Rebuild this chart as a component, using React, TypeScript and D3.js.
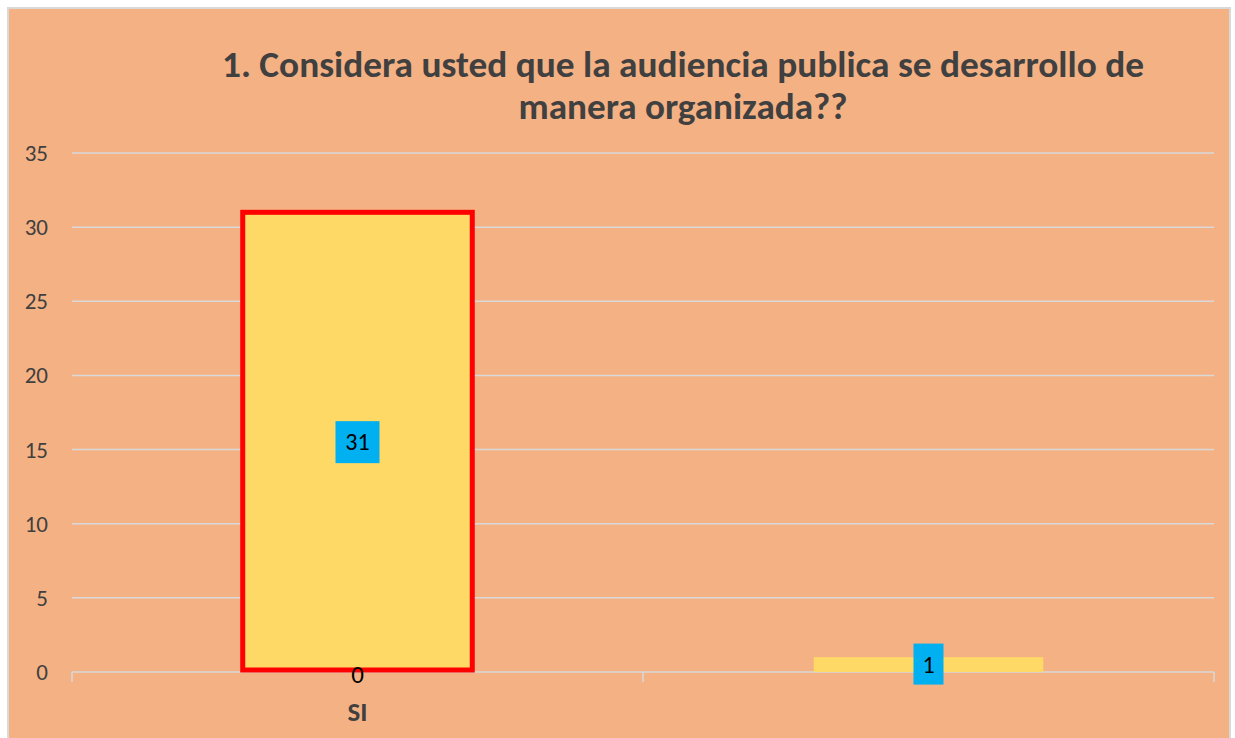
import React from "react";
import * as d3 from "d3";

const categories = ["SI", ""];
const seriesMain = [31, null];
const seriesSecond = [0, 1];
const yTicks = [0, 5, 10, 15, 20, 25, 30, 35];
const titleLines = [
  "1. Considera usted que la audiencia publica se desarrollo de",
  "manera organizada??",
];

const W = 1235;
const H = 738;
const font = "Calibri, Carlito, 'Open Sans', 'Liberation Sans', sans-serif";

export default function App() {
  const x = d3.scaleBand<string>().domain(categories.map((c, i) => String(i))).range([72, 1214]).padding(0);
  const y = d3.scaleLinear().domain([0, 35]).range([672, 153]);
  const bw = x.bandwidth() * 0.402;
  const cx = (i: number) => (x(String(i)) as number) + x.bandwidth() / 2;

  return (
    <svg width={W} height={H} style={{ position: "absolute", left: 0, top: 0, display: "block" }}>
      <rect x={0} y={0} width={W} height={H} fill="#ffffff" />
      <rect x={8} y={8} width={1222} height={740} fill="#F4B183" stroke="#D9D9D9" strokeWidth={2} />
      {titleLines.map((t, i) => (
        <text
          key={i}
          x={683}
          y={77 + i * 42}
          textAnchor="middle"
          fontFamily={font}
          fontWeight="bold"
          fontSize={36}
          fill="#404040"
          textLength={i === 0 ? 922 : 329}
          lengthAdjust="spacingAndGlyphs"
        >
          {t}
        </text>
      ))}
      {yTicks.map((t) => (
        <g key={t}>
          <line x1={72} x2={1214} y1={y(t)} y2={y(t)} stroke="#D9D9D9" strokeWidth={1.5} />
          <text x={48} y={y(t) + 8} textAnchor="end" fontFamily={font} fontSize={23} fill="#404040">
            {t}
          </text>
        </g>
      ))}
      {[0, 1, 2].map((i) => {
        const xx = 72 + i * x.step();
        return <line key={i} x1={xx} x2={xx} y1={672} y2={682} stroke="#D9D9D9" strokeWidth={1.5} />;
      })}
      {seriesSecond.map((v, i) =>
        v > 0 ? (
          <rect key={"s" + i} x={cx(i) - bw / 2} y={y(v)} width={bw} height={y(0) - y(v)} fill="#FFD966" />
        ) : null
      )}
      {seriesMain.map((v, i) =>
        v != null ? (
          <rect
            key={"m" + i}
            x={cx(i) - bw / 2}
            y={y(v)}
            width={bw}
            height={y(0) - y(v) - 2}
            fill="#FFD966"
            stroke="#FF0000"
            strokeWidth={5}
          />
        ) : null
      )}
      {seriesMain.map((v, i) =>
        v != null ? (
          <g key={"lm" + i}>
            <rect x={cx(i) - 22} y={(y(v) + y(0)) / 2 - 21} width={44} height={42} fill="#00B0F0" />
            <text x={cx(i)} y={(y(v) + y(0)) / 2 + 8} textAnchor="middle" fontFamily={font} fontSize={24} fill="#000">
              {v}
            </text>
          </g>
        ) : null
      )}
      {seriesSecond.map((v, i) =>
        v > 0 ? (
          <g key={"ls" + i}>
            <rect x={cx(i) - 15} y={(y(v) + y(0)) / 2 - 21} width={30} height={41} fill="#00B0F0" />
            <text x={cx(i)} y={(y(v) + y(0)) / 2 + 8} textAnchor="middle" fontFamily={font} fontSize={24} fill="#000">
              {v}
            </text>
          </g>
        ) : (
          <text key={"ls" + i} x={cx(i)} y={y(0) + 11} textAnchor="middle" fontFamily={font} fontSize={25} fill="#000">
            {v}
          </text>
        )
      )}
      {categories.map((c, i) => (
        <text key={c + i} x={cx(i)} y={721} textAnchor="middle" fontFamily={font} fontWeight="bold" fontSize={27} fill="#404040">
          {c}
        </text>
      ))}
    </svg>
  );
}
